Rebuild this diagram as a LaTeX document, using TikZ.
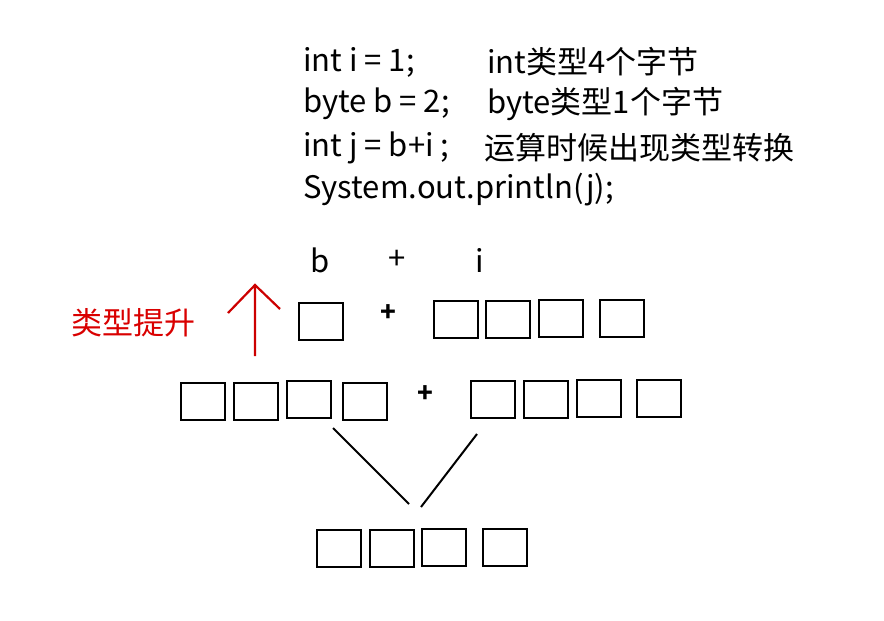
\documentclass[tikz,border=0pt]{standalone}
\usepackage{fontspec}
\setmainfont{Noto Sans CJK SC}
\begin{document}
\begin{tikzpicture}[x=1pt,y=-1pt,
  cell/.style={draw,line width=2pt,minimum width=44pt,minimum height=37pt,inner sep=0pt,anchor=north west},
  code/.style={anchor=west,inner sep=0pt,font=\fontsize{31}{36}\selectfont},
  lbl/.style={inner sep=0pt,font=\fontsize{31}{36}\selectfont}]
\useasboundingbox (0,0) rectangle (884,621);
\node[code] (c1) at (303,62) {int i = 1;};
\node[code] (d1) at (487,62) {int类型4个字节};
\node[code] (c2) at (303,104) {byte b = 2;};
\node[code] (d2) at (487,104) {byte类型1个字节};
\node[code] (c3) at (303,148) {int j = b+i ;};
\node[code] (d3) at (484,148) {运算时候出现类型转换};
\node[code] (c4) at (303,190) {System.out.println(j);};
\node[lbl] (lb) at (320,260) {b};
\node[lbl] (lp) at (397,260) {+};
\node[lbl] (li) at (480,260) {i};
\node[inner sep=0pt,text=red!85!black,font=\fontsize{31}{36}\selectfont] (up) at (133,323) {类型提升};
\coordinate (a0) at (255,356);
\coordinate (a1) at (255,285);
\coordinate (al) at (228,313);
\coordinate (ar) at (280,309);
\draw[red!80!black,line width=2.2pt] (a0)--(a1) (al)--(a1)--(ar);
\node[cell] (b1) at (298,302) {};
\node[lbl,font=\bfseries\fontsize{26}{30}\selectfont] (p1) at (388,313) {+};
\node[cell] (i1) at (433,300) {};
\node[cell] (i2) at (485,300) {};
\node[cell] (i3) at (538,299) {};
\node[cell] (i4) at (599,299) {};
\node[cell] (m1) at (180,382) {};
\node[cell] (m2) at (233,382) {};
\node[cell] (m3) at (286,380) {};
\node[cell] (m4) at (342,382) {};
\node[lbl,font=\bfseries\fontsize{26}{30}\selectfont] (p2) at (425,394) {+};
\node[cell] (n1) at (470,380) {};
\node[cell] (n2) at (523,380) {};
\node[cell] (n3) at (576,379) {};
\node[cell] (n4) at (636,379) {};
\node[cell] (r1) at (316,529) {};
\node[cell] (r2) at (369,529) {};
\node[cell] (r3) at (421,528) {};
\node[cell] (r4) at (482,528) {};
\coordinate (v1) at (333,428);
\coordinate (v2) at (409,504);
\coordinate (w1) at (477,434);
\coordinate (w2) at (421,507);
\draw[line width=2pt] (v1)--(v2) (w1)--(w2);
\end{tikzpicture}
\end{document}
